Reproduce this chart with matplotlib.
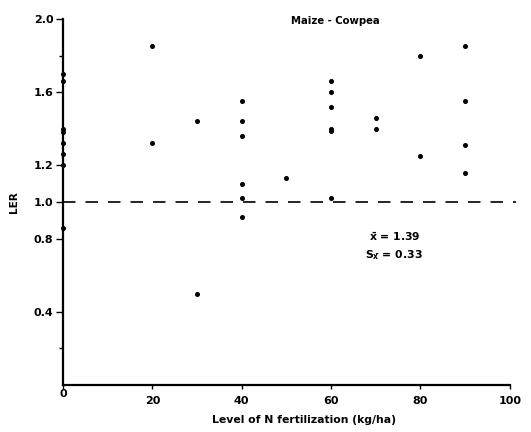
import matplotlib
matplotlib.use("Agg")
import matplotlib.pyplot as plt
import numpy as np

# LER values, grouped by N level (kg/ha)
n_level = [0, 0, 0, 0, 0, 0, 0, 0,
           20, 20,
           30, 30,
           40, 40, 40, 40, 40, 40,
           50,
           60, 60, 60, 60, 60, 60,
           70, 70,
           80, 80,
           90, 90, 90, 90]
ler = [1.70, 1.66, 1.40, 1.38, 1.32, 1.26, 1.20, 0.86,
       1.85, 1.32,
       1.44, 0.50,
       1.55, 1.44, 1.36, 1.10, 1.02, 0.92,
       1.13,
       1.66, 1.60, 1.52, 1.40, 1.39, 1.02,
       1.46, 1.40,
       1.80, 1.25,
       1.85, 1.55, 1.31, 1.16]

x_ticks = [0, 20, 40, 60, 80, 100]
y_ticks = [0.4, 0.8, 1.0, 1.2, 1.6, 2.0]
y_tick_labels = ['0.4', '0.8', '1.0', '1.2', '1.6', '2.0']
y_minor = [0.2, 1.8]
mean_ler = 1.39
sd_ler = 0.33

plt.rcParams['font.family'] = ['DejaVu Sans']
plt.rcParams['font.weight'] = 'bold'
plt.rcParams['axes.labelweight'] = 'bold'
plt.rcParams['mathtext.fontset'] = 'dejavusans'

fig = plt.figure(figsize=(5.31, 4.32), dpi=100)
ax = fig.add_axes([0.1186, 0.1088, 0.8414, 0.8472])

ax.plot(n_level, ler, 'o', color='black', markersize=2.6, clip_on=False)
ax.plot([0, 101.5], [1.0, 1.0], color='black', lw=1.2, dashes=(7.5, 6),
        clip_on=False)

ax.set_xlim(0, 100)
ax.set_ylim(0, 2.0)

ax.spines['top'].set_visible(False)
ax.spines['right'].set_visible(False)
ax.spines['left'].set_linewidth(1.6)
ax.spines['bottom'].set_linewidth(1.6)

ax.set_xticks(x_ticks)
ax.set_xticklabels([str(v) for v in x_ticks], fontsize=8)
ax.set_yticks(y_ticks)
ax.set_yticklabels(y_tick_labels, fontsize=8)
ax.set_yticks(y_minor, minor=True)
ax.tick_params(axis='y', which='major', length=5, width=1, pad=2)
ax.tick_params(axis='y', which='minor', length=3, width=1)
ax.tick_params(axis='x', which='major', length=3, width=1, pad=5)
# the origin label sits a little higher in the original
ax.get_xticklabels()[0].set_y(0.02)

ax.set_xlabel('Level of N fertilization (kg/ha)', fontsize=7.8)
ax.xaxis.set_label_coords(0.54, -0.082)
ax.set_ylabel('LER', fontsize=7.5, labelpad=10)

ax.text(0.61, 0.995, 'Maize - Cowpea', transform=ax.transAxes,
        ha='center', va='center', fontsize=7.3)
ax.text(68.5, 0.81, r'$\mathbf{\bar{x}}$ = %.2f' % mean_ler,
        fontsize=7.8, ha='left', va='center')
ax.text(67.5, 0.71, r'$\mathbf{S_{\bar{x}}}$ = %.2f' % sd_ler,
        fontsize=7.8, ha='left', va='center')

fig.savefig('out.png', dpi=100)
